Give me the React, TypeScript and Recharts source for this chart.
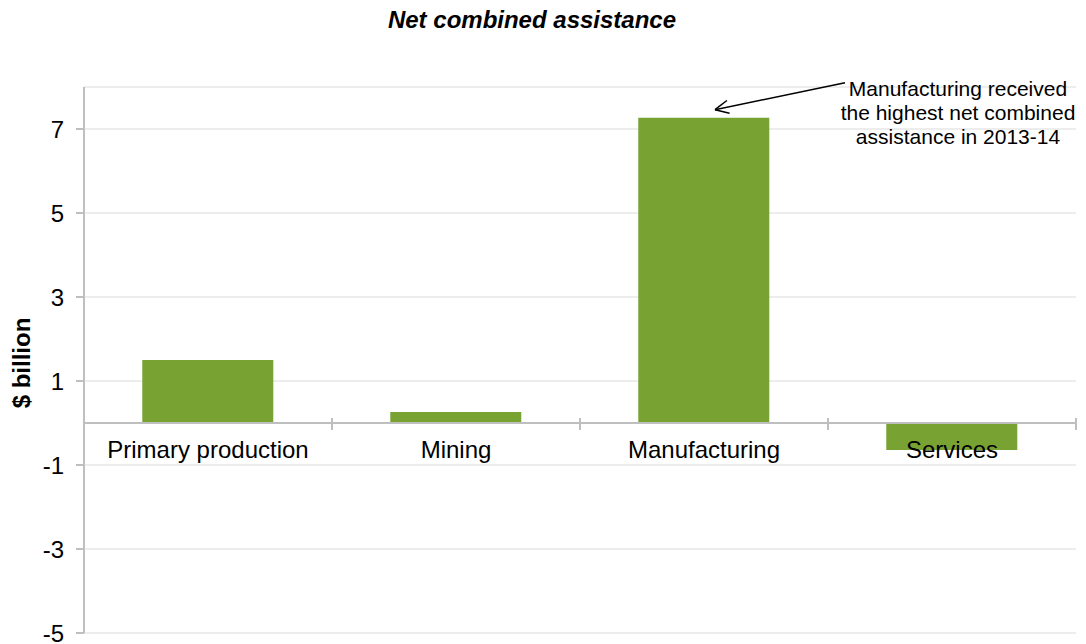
import React from 'react';
import { BarChart, Bar, YAxis, XAxis, CartesianGrid, ReferenceLine, ReferenceDot } from 'recharts';

const categories = ['Primary production', 'Mining', 'Manufacturing', 'Services'];
const netAssistance = [1.5, 0.26, 7.27, -0.64]; // $ billion
const yTicks = [-5, -3, -1, 1, 3, 5, 7];
const annotationLines = ['Manufacturing received', 'the highest net combined', 'assistance in 2013-14'];

const FONT = "Arial, 'Liberation Sans', sans-serif";
const BAR_COLOR = '#78A232';
const AXIS_COLOR = '#BFBFBF';
const GRID_COLOR = '#EDEDED';

const data = categories.map((category, i) => ({ category, value: netAssistance[i] }));

// zero line acting as the category axis, with marks between categories
const ZeroAxis = (props: any) => {
  const { x1, y1, x2 } = props;
  const band = (x2 - x1) / categories.length;
  return (
    <g>
      <line x1={x1} y1={y1} x2={x2} y2={y1} stroke={AXIS_COLOR} strokeWidth={2} />
      {categories.map((_, i) => (
        <line key={`t-${i}`} x1={x1 + i * band} x2={x1 + i * band} y1={y1 - 5} y2={y1 + 7} stroke={AXIS_COLOR} strokeWidth={2} />
      ))}
      <line x1={x2} x2={x2} y1={y1 - 5} y2={y1 + 7} stroke={AXIS_COLOR} strokeWidth={2} />
      {categories.map((c, i) => (
        <text key={`l-${i}`} x={x1 + (i + 0.5) * band} y={y1 + 35} textAnchor="middle" fontSize={24} fill="#000" fontFamily={FONT}>
          {c}
        </text>
      ))}
    </g>
  );
};

const Callout = (props: any) => {
  const { cx, cy } = props;
  const tip = { x: cx + 11, y: cy - 8 };
  const tail = { x: cx + 141, y: cy - 35 };
  const ang = Math.atan2(tail.y - tip.y, tail.x - tip.x);
  const head = 15;
  const spread = 0.45;
  return (
    <g>
      <line x1={tail.x} y1={tail.y} x2={tip.x} y2={tip.y} stroke="#000" strokeWidth={1.5} />
      <line x1={tip.x} y1={tip.y} x2={tip.x + head * Math.cos(ang + spread)} y2={tip.y + head * Math.sin(ang + spread)} stroke="#000" strokeWidth={1.5} />
      <line x1={tip.x} y1={tip.y} x2={tip.x + head * Math.cos(ang - spread)} y2={tip.y + head * Math.sin(ang - spread)} stroke="#000" strokeWidth={1.5} />
      {annotationLines.map((t, i) => (
        <text key={i} x={cx + 254} y={cy - 22 + i * 24} textAnchor="middle" fontSize={21} fill="#000" fontFamily={FONT}>
          {t}
        </text>
      ))}
    </g>
  );
};

const YLabel = (props: any) => {
  const { viewBox } = props;
  const cy = viewBox.y + viewBox.height / 2 + 3;
  return (
    <text x={21} y={cy} transform={`rotate(-90, 21, ${cy})`} textAnchor="middle" dominantBaseline="central" fontSize={24} fontWeight="bold" fill="#000" fontFamily={FONT}>
      $ billion
    </text>
  );
};

export default function App() {
  return (
    <div style={{ position: 'absolute', left: 0, top: 0, width: 1086, height: 644, background: '#fff', fontFamily: FONT }}>
      <div style={{ position: 'absolute', top: 8, left: 0, width: 1064, textAlign: 'center', fontSize: 24, lineHeight: '24px', fontWeight: 'bold', fontStyle: 'italic' }}>
        Net combined assistance
      </div>
      <BarChart width={1086} height={644} data={data} margin={{ top: 87, right: 10, bottom: 11, left: 0 }} barCategoryGap="23.5%">
        <CartesianGrid vertical={false} stroke={GRID_COLOR} strokeWidth={2} />
        <XAxis dataKey="category" hide />
        <YAxis
          domain={[-5, 8]}
          ticks={yTicks}
          interval={0}
          allowDataOverflow
          width={84}
          tickSize={8}
          tickMargin={12}
          axisLine={{ stroke: AXIS_COLOR, strokeWidth: 2 }}
          tickLine={{ stroke: AXIS_COLOR, strokeWidth: 2 }}
          tick={{ fill: '#000', fontSize: 24, fontFamily: FONT }}
          label={<YLabel />}
        />
        <Bar dataKey="value" fill={BAR_COLOR} isAnimationActive={false} />
        <ReferenceLine y={0} shape={ZeroAxis} />
        <ReferenceDot x="Manufacturing" y={netAssistance[2]} ifOverflow="visible" shape={Callout} />
      </BarChart>
    </div>
  );
}
